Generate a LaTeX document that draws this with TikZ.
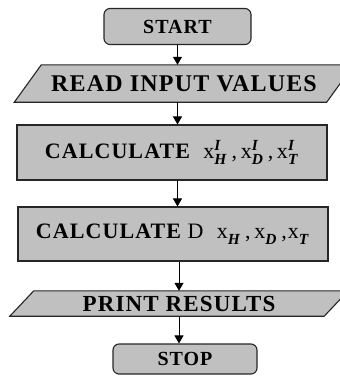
\documentclass[tikz,border=0pt]{standalone}
\usepackage{fontspec}
\usepackage{amsmath}
\setmainfont{Liberation Serif}[LetterSpace=5]
\usetikzlibrary{arrows.meta,backgrounds}
\definecolor{boxgray}{RGB}{192,192,192}
\tikzset{
  box/.style={draw=black!85,fill=boxgray,line width=1.1pt},
  term/.style={box,rounded corners=6pt,inner sep=0pt},
  proc/.style={box,inner sep=0pt},
  io/.style={inner sep=0pt},
}
\newcommand\xv[2]{x$^{\textbf{\textit{#2}}}_{\textbf{\textit{#1}}}$}
\newcommand\fs[1]{\bfseries\fontsize{#1}{#1}\selectfont}
\begin{document}
\begin{tikzpicture}[x=1pt,y=-1pt,>={Stealth[length=8pt,width=9pt,inset=0pt]}]
\useasboundingbox (0,0) rectangle (340,376);
\node[term,minimum width=147pt,minimum height=36pt,font=\fs{20}](start) at (177.5,26.5){START};
\node[io,minimum width=312pt,minimum height=37pt,font=\fs{24}](read) at (184,83.5){READ INPUT VALUES};
\node[proc,minimum width=310pt,minimum height=55pt,font=\fs{22}](calc1) at (172,152.5)
  {CALCULATE\ \ \mdseries\xv{H}{I}\,,\,\xv{D}{I}\,,\,\xv{T}{I}};
\node[proc,minimum width=310pt,minimum height=54pt,font=\fs{22}](calc2) at (173,234)
  {CALCULATE {\mdseries D}\ \ \mdseries\xv{H}{}\,,\,\xv{D}{}\,,\xv{T}{}};
\node[io,minimum width=314pt,minimum height=25pt,font=\fs{23}](print) at (179,303.5){PRINT RESULTS};
\node[term,minimum width=144pt,minimum height=30pt,font=\fs{20}](stop) at (185,359){STOP};
% parallelograms behind the texts
\begin{scope}[on background layer]
\draw[box]([xshift=13.5pt]read.north west)--([xshift=13.5pt]read.north east)
  --([xshift=-13.5pt]read.south east)--([xshift=-13.5pt]read.south west)--cycle;
\draw[box]([xshift=12pt]print.north west)--([xshift=12pt]print.north east)
  --([xshift=-12pt]print.south east)--([xshift=-12pt]print.south west)--cycle;
\end{scope}
\draw[->,line width=1pt](start.south)--(start.south|-read.north);
\draw[->,line width=1pt](start.south|-read.south)--(start.south|-calc1.north);
\draw[->,line width=1pt](start.south|-calc1.south)--(start.south|-calc2.north);
\draw[->,line width=1pt](179,0|-calc2.south)--(179,0|-print.north);
\draw[->,line width=1pt](179,0|-print.south)--(179,0|-stop.north);
\end{tikzpicture}
\end{document}
